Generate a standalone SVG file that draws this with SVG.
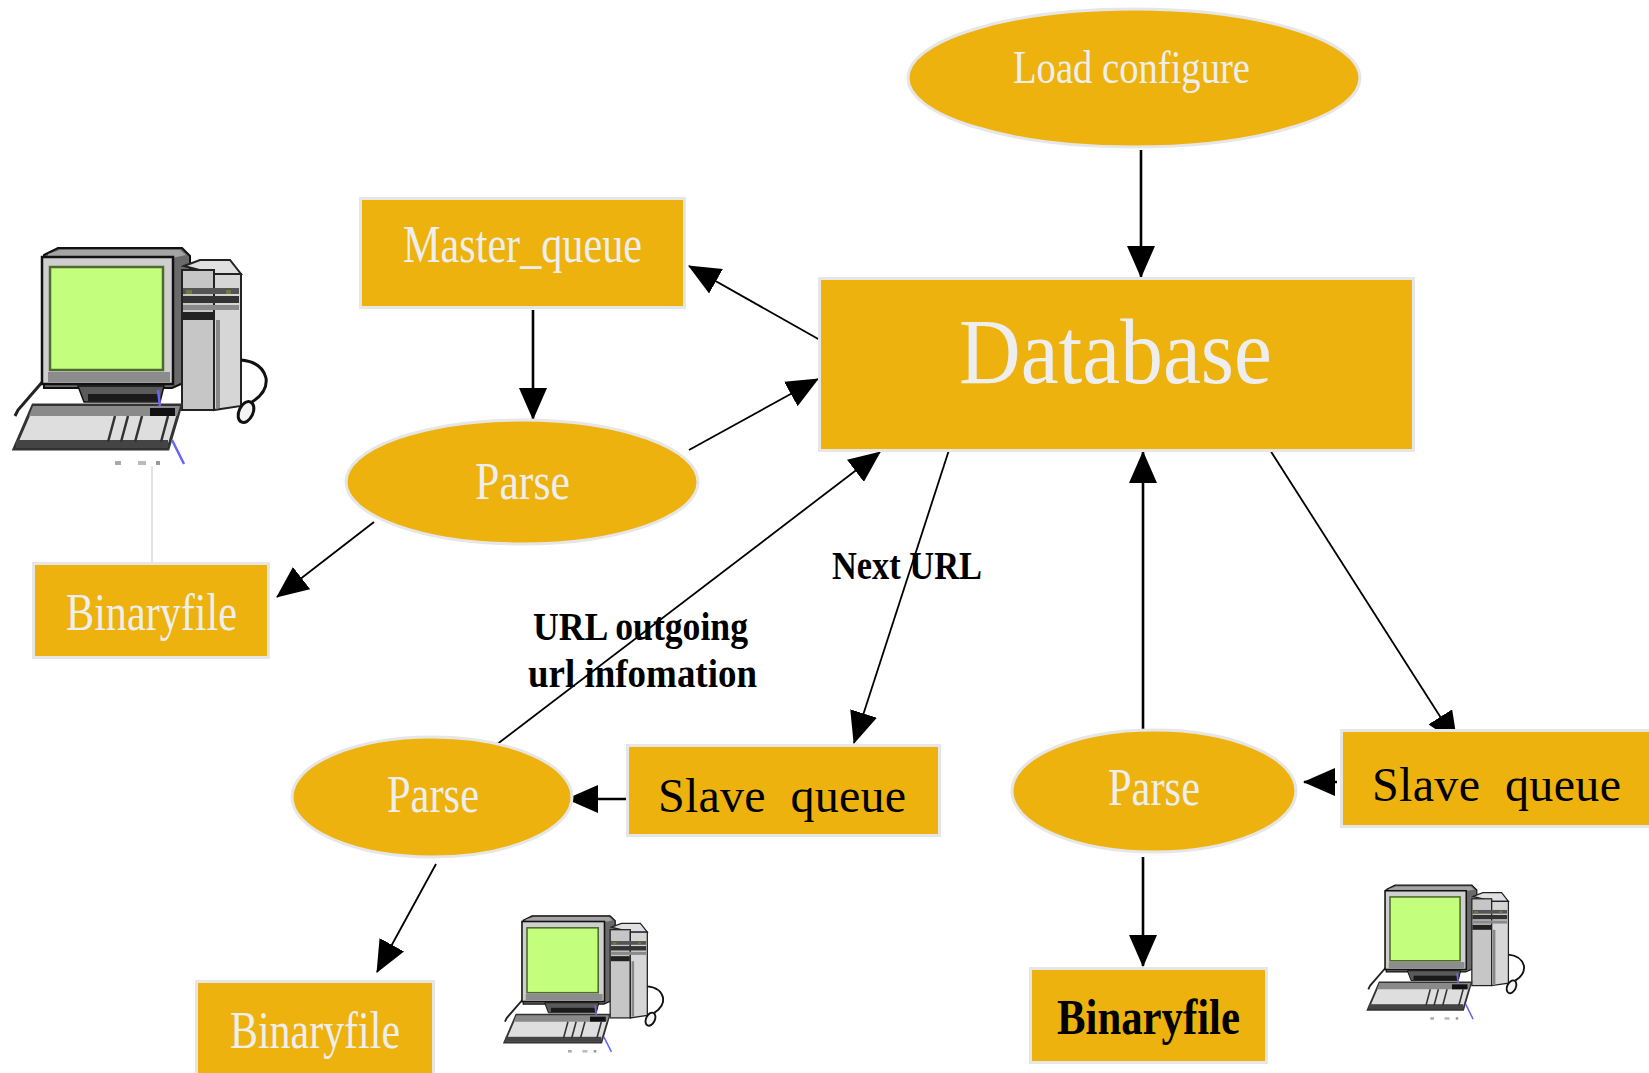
<svg xmlns="http://www.w3.org/2000/svg" width="1649" height="1073" viewBox="0 0 1649 1073">
  <style>
    .box { fill: #EDB20D; stroke: #E6E6E6; stroke-width: 3; }
    .lbl { font-family: "Liberation Serif", "Times New Roman", serif; fill: #EEEEEE; }
    .dark { font-family: "Liberation Serif", "Times New Roman", serif; fill: #000000; }
    .bold { font-family: "Liberation Serif", "Times New Roman", serif; font-weight: bold; fill: #000000; }
    .edge { stroke: #000000; stroke-width: 1.8; fill: none; marker-end: url(#ah); }
    .edge-v { stroke: #000000; stroke-width: 2.6; fill: none; marker-end: url(#ah); }
    .pre { white-space: pre; }
  </style>
  <defs>
    <marker id="ah" markerUnits="userSpaceOnUse" markerWidth="32" markerHeight="28" viewBox="0 0 32 28" refX="31" refY="14" orient="auto">
      <path d="M0,0 L32,14 L0,28 Z" fill="#000000"/>
    </marker>
    <!-- desktop computer icon: monitor, tower, keyboard, mouse -->
    <g id="pc">
      <path d="M44,150 L18,180 L15,186" stroke="#222" stroke-width="3" fill="none"/>
      <polygon points="44,25 58,18 182,18 190,26 190,150 172,158 44,158" fill="#6a6a6a" stroke="#111" stroke-width="2"/>
      <polygon points="48,24 60,20 180,20 186,25 172,28 48,28" fill="#a4a4a4"/>
      <rect x="42" y="27" width="131" height="127" fill="#cfcfcf" stroke="#111" stroke-width="2.5"/>
      <rect x="50" y="37" width="113" height="103" fill="#c3fe7c" stroke="#4e6a2c" stroke-width="2.5"/>
      <rect x="48" y="142" width="122" height="10" fill="#8c8c8c"/>
      <polygon points="78,156 164,156 160,172 84,172" fill="#5a5a5a" stroke="#111" stroke-width="1.5"/>
      <rect x="88" y="164" width="70" height="7" fill="#1a1a1a"/>
      <!-- tower -->
      <polygon points="184,36 200,30 230,30 241,44 215,44" fill="#e0e0e0" stroke="#222" stroke-width="2"/>
      <rect x="182" y="40" width="32" height="140" fill="#c6c6c6" stroke="#222" stroke-width="2"/>
      <polygon points="214,44 241,44 241,176 214,180" fill="#d6d6d6" stroke="#222" stroke-width="2"/>
      <rect x="216" y="90" width="4" height="88" fill="#888"/>
      <rect x="183" y="58" width="56" height="6" fill="#555"/>
      <rect x="183" y="66" width="56" height="7" fill="#333"/>
      <rect x="183" y="75" width="56" height="5" fill="#8a8a8a"/>
      <rect x="183" y="82" width="30" height="8" fill="#222"/>
      <rect x="186" y="60" width="6" height="4" fill="#6f7a3c"/>
      <rect x="226" y="60" width="5" height="4" fill="#6f7a3c"/>
      <!-- keyboard -->
      <polygon points="33,175 181,175 168,219 14,219" fill="#dedede" stroke="#333" stroke-width="3"/>
      <polygon points="33,176 180,176 177,186 29,186" fill="#8a8a8a"/>
      <rect x="150" y="178" width="25" height="8" fill="#111"/>
      <rect x="16" y="210" width="152" height="8" fill="#444"/>
      <path d="M115,186 L108,212 M128,186 L121,212 M142,186 L135,212 M168,186 L161,212" stroke="#333" stroke-width="2.5"/>
      <!-- mouse and cable -->
      <path d="M241,130 Q262,132 266,148 Q268,162 252,172" stroke="#111" stroke-width="3" fill="none"/>
      <ellipse cx="246" cy="182" rx="7" ry="11" transform="rotate(25 246 182)" fill="#f4f4f4" stroke="#111" stroke-width="3"/>
      <path d="M158,160 L160,176 M172,210 L184,234" stroke="#6666ff" stroke-width="2.5"/>
      <rect x="115" y="231" width="6" height="4" fill="#aaa"/>
      <rect x="138" y="231" width="8" height="4" fill="#bbb"/>
      <rect x="156" y="231" width="4" height="4" fill="#999"/>
    </g>
  </defs>

  <rect width="1649" height="1073" fill="#ffffff"/>

  <!-- computer icons -->
  <g id="pc-master">
    <line x1="152" y1="466" x2="152" y2="562" stroke="#e2e2e2" stroke-width="2"/>
    <use href="#pc" transform="translate(0,230)"/>
  </g>
  <g id="pc-slave-1"><use href="#pc" transform="translate(495.5,904.5) scale(0.63)"/></g>
  <g id="pc-slave-2"><use href="#pc" transform="translate(1359,874) scale(0.62)"/></g>

  <!-- connectors -->
  <g id="connectors">
    <line class="edge-v" x1="1141" y1="150" x2="1141" y2="277"/>
    <line class="edge" x1="820" y1="340" x2="689" y2="266"/>
    <line class="edge-v" x1="533" y1="310" x2="533" y2="419"/>
    <line class="edge" x1="689" y1="450" x2="818" y2="379"/>
    <line class="edge" x1="374" y1="522" x2="277" y2="597"/>
    <line class="edge" x1="496" y1="745" x2="880" y2="452"/>
    <line class="edge" x1="949" y1="450" x2="854" y2="743"/>
    <line class="edge-v" x1="632" y1="799" x2="567" y2="799"/>
    <line class="edge" x1="436" y1="864" x2="377" y2="972"/>
    <line class="edge-v" x1="1143" y1="729" x2="1143" y2="452"/>
    <line class="edge" x1="1270" y1="450" x2="1457" y2="743"/>
    <line class="edge-v" x1="1337" y1="782" x2="1304" y2="782"/>
    <line class="edge-v" x1="1143" y1="857" x2="1143" y2="966"/>
  </g>

  <!-- nodes -->
  <g id="load-configure">
    <ellipse class="box" cx="1134" cy="78" rx="226" ry="69"/>
    <text class="lbl" x="1013" y="83" font-size="46" textLength="237" lengthAdjust="spacingAndGlyphs">Load configure</text>
  </g>
  <g id="database">
    <rect class="box" x="819.5" y="278.5" width="594" height="172"/>
    <text class="lbl" x="959" y="383" font-size="94" textLength="313" lengthAdjust="spacingAndGlyphs">Database</text>
  </g>
  <g id="master-queue">
    <rect class="box" x="360.5" y="198.5" width="324" height="109"/>
    <text class="lbl" x="403" y="262" font-size="52" textLength="239" lengthAdjust="spacingAndGlyphs">Master_queue</text>
  </g>
  <g id="parse-master">
    <ellipse class="box" cx="522" cy="482" rx="176" ry="62"/>
    <text class="lbl" x="475" y="499" font-size="52" textLength="95" lengthAdjust="spacingAndGlyphs">Parse</text>
  </g>
  <g id="binaryfile-master">
    <rect class="box" x="33.5" y="563.5" width="235" height="94"/>
    <text class="lbl" x="66" y="630" font-size="52" textLength="171" lengthAdjust="spacingAndGlyphs">Binaryfile</text>
  </g>
  <g id="slave-queue-1">
    <rect class="box" x="627.5" y="745.5" width="312" height="90"/>
    <text class="dark pre" x="658" y="812" font-size="48" textLength="248" lengthAdjust="spacing">Slave  queue</text>
  </g>
  <g id="parse-slave-1">
    <ellipse class="box" cx="432" cy="797" rx="140" ry="60"/>
    <text class="lbl" x="387" y="812" font-size="52" textLength="92" lengthAdjust="spacingAndGlyphs">Parse</text>
  </g>
  <g id="binaryfile-slave-1">
    <rect class="box" x="196.5" y="981.5" width="237" height="100"/>
    <text class="lbl" x="230" y="1048" font-size="52" textLength="170" lengthAdjust="spacingAndGlyphs">Binaryfile</text>
  </g>
  <g id="parse-slave-2">
    <ellipse class="box" cx="1154" cy="791" rx="142" ry="61"/>
    <text class="lbl" x="1108" y="805" font-size="52" textLength="92" lengthAdjust="spacingAndGlyphs">Parse</text>
  </g>
  <g id="slave-queue-2">
    <rect class="box" x="1341.5" y="730.5" width="320" height="96"/>
    <text class="dark pre" x="1372" y="801" font-size="48" textLength="249" lengthAdjust="spacing">Slave  queue</text>
  </g>
  <g id="binaryfile-slave-2">
    <rect class="box" x="1030.5" y="968.5" width="236" height="94"/>
    <text class="bold" x="1057" y="1034" font-size="50" textLength="183" lengthAdjust="spacingAndGlyphs">Binaryfile</text>
  </g>

  <!-- edge labels -->
  <g id="edge-labels">
    <text class="bold" x="832" y="579" font-size="40" textLength="150" lengthAdjust="spacingAndGlyphs">Next URL</text>
    <text class="bold" x="533" y="640" font-size="40" textLength="215" lengthAdjust="spacingAndGlyphs">URL outgoing</text>
    <text class="bold" x="528" y="687" font-size="40" textLength="229" lengthAdjust="spacingAndGlyphs">url infomation</text>
  </g>
</svg>
